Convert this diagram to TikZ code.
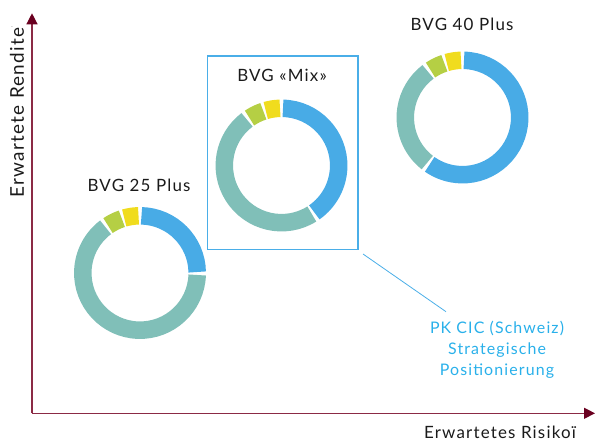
\documentclass[tikz,border=0pt]{standalone}
\usepackage{fontspec}
\setmainfont{Lato}[LetterSpace=7]
\usetikzlibrary{arrows.meta}
\definecolor{cblue}{HTML}{48ABE6}
\definecolor{cteal}{HTML}{80BFB8}
\definecolor{cgreen}{HTML}{B5CF44}
\definecolor{cyellow}{HTML}{F0DC1E}
\definecolor{axisred}{HTML}{8B2A45}
\definecolor{arrowred}{HTML}{6A0020}
\definecolor{boxblue}{HTML}{4AAEE8}
\definecolor{textblue}{HTML}{29B0EA}
\definecolor{textblack}{HTML}{1A1A1A}
\tikzset{
  seg/.style={line width=17.5bp},
  axisline/.style={draw=axisred, line width=1.2bp, -{Triangle[length=11bp,width=11bp,fill=arrowred,color=arrowred]}},
  lbl/.style={font=\fontsize{17}{20}\selectfont, text=textblack, inner sep=0pt},
  bluelbl/.style={font=\fontsize{16}{21}\selectfont, text=textblue, align=center, inner sep=0pt},
}
\newcommand{\donut}[3]{%
  % #1 center, #2 blue end (clockwise deg from top), #3 teal start
  \draw[seg, cblue] (#1) ++({90-1.5}:57.2) arc[start angle={90-1.5}, end angle={90-#2}, radius=57.2];
  \draw[seg, cteal] (#1) ++({90-#3}:57.2) arc[start angle={90-#3}, end angle={90-323}, radius=57.2];
  \draw[seg, cgreen] (#1) ++({90-326}:57.2) arc[start angle={90-326}, end angle={90-341.5}, radius=57.2];
  \draw[seg, cyellow] (#1) ++({90-344}:57.2) arc[start angle={90-344}, end angle={90-358.5}, radius=57.2];
}
\begin{document}
\begin{tikzpicture}[x=1bp,y=1bp]
\useasboundingbox (0,0) rectangle (595,441);
% axes
\coordinate (origin) at (32,27.7);
\coordinate (ytip) at (32,427.7);
\coordinate (xtip) at (595,27.7);
\draw[axisline] (origin) -- (ytip);
\draw[axisline] (origin) -- (xtip);
\node[lbl, font=\fontsize{19}{22}\selectfont, rotate=90] (ylabel) at (17,329) {Erwartete Rendite\raisebox{1.2ex}{\tiny .}};
\node[lbl] (xlabel) at (500,9) {Erwartetes Risikoï};
% donuts
\coordinate (c1) at (140,168);
\coordinate (c2) at (281.5,275.5);
\coordinate (c3) at (462.5,323.5);
\donut{c1}{89}{92}
\donut{c2}{145}{148}
\donut{c3}{215}{218}
\node[lbl] (t1) at (139,256) {BVG 25 Plus};
\node[lbl] (t2) at (282,366) {BVG «Mix»};
\node[lbl] (t3) at (462,417) {BVG 40 Plus};
% highlight box
\node[draw=boxblue, line width=1.5bp, minimum width=150.5bp, minimum height=193.5bp, inner sep=0pt] (box) at (282.75,288.25) {};
\coordinate (lstart) at (363,187);
\node[bluelbl] (pk) at (497,91) {PK CIC (Schweiz)\\Strategische\\Positionierung};
\coordinate (lend) at (446,129.3);
\draw[boxblue, line width=0.8bp] (lstart) -- (lend);
\end{tikzpicture}
\end{document}
